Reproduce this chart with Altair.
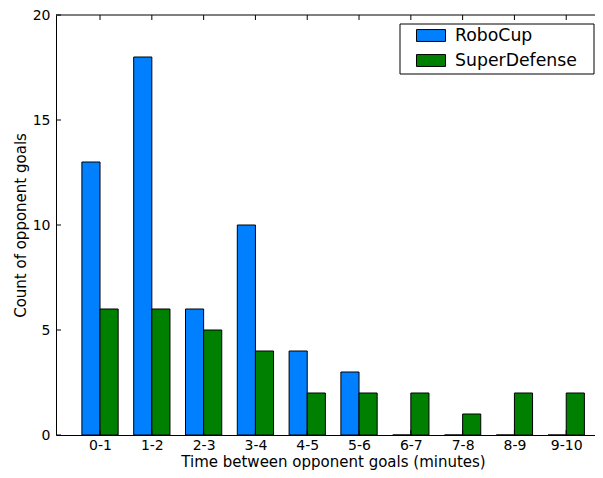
import json
import altair as alt
import pandas as pd

categories = ["0-1", "1-2", "2-3", "3-4", "4-5", "5-6", "6-7", "7-8", "8-9", "9-10"]
series_names = ["RoboCup", "SuperDefense"]
robocup = [13, 18, 6, 10, 4, 3, 0, 0, 0, 0]
superdefense = [6, 6, 5, 4, 2, 2, 2, 1, 2, 2]
y_ticks = [0, 5, 10, 15, 20]
colors = ["#0080ff", "#008000"]

rows = []
for i, c in enumerate(categories):
    rows.append({"idx": i, "cat": c, "series": "RoboCup", "count": robocup[i]})
    rows.append({"idx": i, "cat": c, "series": "SuperDefense", "count": superdefense[i]})
df = pd.DataFrame(rows)

W, H = 539, 420
BW = 0.35
FONT = "DejaVu Sans"
PX_PER_UNIT = 51.8
x_lo = -0.85
xscale = alt.Scale(domain=[x_lo, x_lo + W / PX_PER_UNIT], nice=False, zero=False)
yscale = alt.Scale(domain=[0, 20], nice=False)

label_expr = json.dumps(categories) + "[datum.value]"

bars = alt.Chart(df).transform_calculate(
    x0=f"datum.idx + (datum.series == 'RoboCup' ? -{BW} : 0)",
    x1=f"datum.idx + (datum.series == 'RoboCup' ? 0 : {BW})",
    base="0",
).mark_bar(stroke="black", strokeWidth=1, opacity=1).encode(
    x=alt.X("x0:Q", scale=xscale,
            axis=alt.Axis(values=list(range(len(categories))), labelExpr=label_expr,
                          ticks=False, grid=False, domain=True, domainColor="black",
                          labelPadding=3, labelFontSize=14, labelFont=FONT, labelColor="black",
                          title="Time between opponent goals (minutes)",
                          titleFont=FONT, titleFontSize=15, titleFontWeight="normal",
                          titleColor="black", titleX=277, titleY=26, titleBaseline="middle")),
    x2="x1:Q",
    y=alt.Y("count:Q", scale=yscale,
            axis=alt.Axis(values=y_ticks, ticks=False, grid=False, domain=True,
                          domainColor="black", labelPadding=6, labelFontSize=14,
                          labelFont=FONT, labelColor="black",
                          title="Count of opponent goals", titleFont=FONT,
                          titleFontSize=15, titleFontWeight="normal", titleColor="black",
                          titleAngle=-90, titleX=-36, titleY=H / 2,
                          titleBaseline="middle", titleAlign="center")),
    y2="base:Q",
    color=alt.Color("series:N",
                    scale=alt.Scale(domain=series_names, range=colors),
                    legend=alt.Legend(title=None, orient="none", legendX=360, legendY=8,
                                      padding=0, clipHeight=25, rowPadding=0,
                                      symbolType="M-1,-0.41H1V0.41H-1Z", symbolSize=841,
                                      symbolStrokeColor="black", symbolStrokeWidth=1,
                                      symbolOpacity=1,
                                      labelFont=FONT, labelFontSize=17.3, labelColor="black",
                                      labelOffset=9)),
)

legend_box = alt.Chart(pd.DataFrame({"a": [0]})).mark_rect(
    fill="white", stroke="black", strokeWidth=1).encode(
    x=alt.value(344), x2=alt.value(538), y=alt.value(9), y2=alt.value(59))

ytick_df = pd.DataFrame({"count": y_ticks})
xtick_df = pd.DataFrame({"x0": list(range(len(categories)))})

left_ticks = alt.Chart(ytick_df).mark_rule(color="black", strokeWidth=1).encode(
    y=alt.Y("count:Q", scale=yscale), x=alt.value(0), x2=alt.value(5))
bottom_ticks = alt.Chart(xtick_df).mark_rule(color="black", strokeWidth=1).encode(
    x=alt.X("x0:Q", scale=xscale), y=alt.value(H), y2=alt.value(H - 5))
top_ticks = alt.Chart(xtick_df).mark_rule(color="black", strokeWidth=1).encode(
    x=alt.X("x0:Q", scale=xscale), y=alt.value(0), y2=alt.value(5))
top_spine = alt.Chart(pd.DataFrame({"a": [0]})).mark_rule(color="black", strokeWidth=1).encode(
    x=alt.value(0), x2=alt.value(W), y=alt.value(0))

chart = alt.layer(bars, legend_box, left_ticks, bottom_ticks, top_ticks, top_spine).properties(
    width=W, height=H,
    autosize=alt.AutoSizeParams(type="none"),
    padding={"left": 48, "top": 7, "right": 0, "bottom": 35},
).configure_view(stroke=None).configure_axis(domainWidth=1)

chart.save("out.html", embed_options={"renderer": "svg", "actions": False})
